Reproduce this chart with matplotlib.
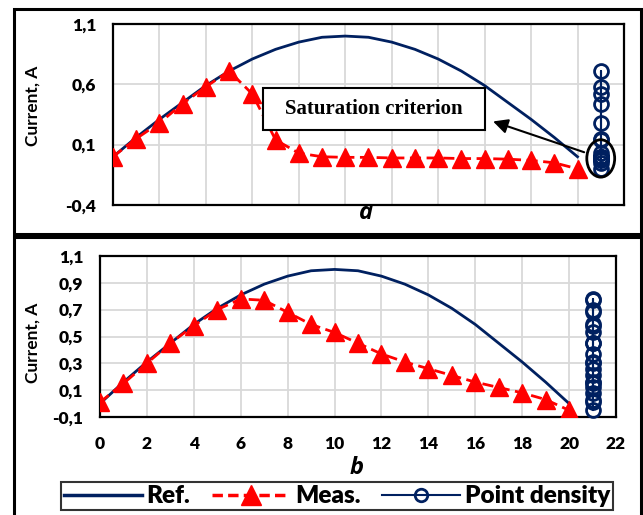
import matplotlib.pyplot as plt
from matplotlib.patches import Rectangle, Ellipse
from matplotlib.lines import Line2D
from matplotlib.ticker import FuncFormatter

# data
x_vals = list(range(21))
ref_vals = [0.0, 0.16, 0.31, 0.45, 0.59, 0.71, 0.81, 0.89, 0.95, 0.99, 1.0,
            0.99, 0.95, 0.89, 0.81, 0.71, 0.59, 0.45, 0.31, 0.16, 0.0]
meas_a = [0.0, 0.15, 0.28, 0.44, 0.58, 0.71, 0.52, 0.14, 0.03, 0.0, -0.005,
          -0.005, -0.01, -0.01, -0.01, -0.015, -0.015, -0.02, -0.03, -0.05, -0.1]
meas_b = [0.01, 0.15, 0.30, 0.45, 0.58, 0.70, 0.78, 0.77, 0.68, 0.59, 0.53,
          0.45, 0.37, 0.31, 0.26, 0.21, 0.16, 0.12, 0.08, 0.03, -0.05]
density_x = 21
yticks_a = [-0.4, 0.1, 0.6, 1.1]
yticks_b = [-0.1, 0.1, 0.3, 0.5, 0.7, 0.9, 1.1]
xticks = list(range(0, 23, 2))

NAVY = "#002060"
RED = "#ff0000"
GRID = "#d9d9d9"
FONT = "Lato"

comma = FuncFormatter(lambda v, p: f"{v:.1f}".replace(".", ","))

fig = plt.figure(figsize=(6.43, 5.15), dpi=100)

# panel frames
fig.patches.append(Rectangle((0.022, 0.5456), 0.975, 0.437, transform=fig.transFigure,
                             fill=False, lw=2.2, ec="black"))
fig.patches.append(Rectangle((0.022, -0.02), 0.975, 0.5598, transform=fig.transFigure,
                             fill=False, lw=2.2, ec="black"))

ax_a = fig.add_axes([0.1757, 0.6019, 0.7947, 0.3515])
ax_b = fig.add_axes([0.1555, 0.1903, 0.8025, 0.3126])


def style(ax, yticks, ylim, show_x, label_x, label_y):
    ax.set_xlim(0, 22)
    ax.set_ylim(*ylim)
    ax.set_xticks(xticks)
    ax.set_yticks(yticks)
    ax.yaxis.set_major_formatter(comma)
    ax.grid(True, color=GRID, lw=1.3)
    ax.set_axisbelow(True)
    ax.tick_params(length=0, pad=12)
    for s in ax.spines.values():
        s.set_linewidth(1.6)
    for lab in ax.get_yticklabels():
        lab.set_fontfamily(FONT)
        lab.set_fontweight("heavy")
        lab.set_fontsize(12.5)
    if show_x:
        for lab in ax.get_xticklabels():
            lab.set_fontfamily(FONT)
            lab.set_fontweight("heavy")
            lab.set_fontsize(12.5)
        ax.tick_params(axis="x", pad=14)
    else:
        ax.set_xticklabels([])
    ax.set_ylabel("Current, A", fontfamily=FONT, fontsize=12.5, fontweight="bold")
    ax.yaxis.set_label_coords(label_x, label_y)


def draw(ax, meas):
    ax.plot(x_vals, ref_vals, color=NAVY, lw=2, zorder=3)
    ax.plot(x_vals, meas, color=RED, lw=2, ls=(0, (4, 2)), marker="^", ms=12.5,
            mec=RED, mfc=RED, zorder=4)
    ax.plot([density_x] * len(meas), meas, color=NAVY, lw=1.5, marker="o", ms=10,
            mfc="none", mec=NAVY, mew=2, zorder=4, clip_on=False)


draw(ax_a, meas_a)
draw(ax_b, meas_b)
style(ax_a, yticks_a, (-0.4, 1.1), False, -0.141, 0.55)
style(ax_b, yticks_b, (-0.1, 1.1), True, -0.116, 0.46)

# saturation annotation
ax_a.add_patch(Rectangle((6.46, 0.218), 9.55, 0.348, fc="white", ec="black", lw=1.5, zorder=6))
ax_a.text(11.23, 0.392, "Saturation criterion", ha="center", va="center",
          fontfamily="Liberation Serif", fontweight="bold", fontsize=15, zorder=7)
ax_a.annotate("", xy=(16.25, 0.30), xytext=(20.4, 0.03),
              arrowprops=dict(arrowstyle="-|>", color="black", lw=1.5, mutation_scale=22), zorder=7)
ax_a.add_patch(Ellipse((21.0, -0.014), 1.2, 0.31, fill=False, ec="black", lw=2, zorder=6,
                       clip_on=False))

fig.text(0.569, 1 - 213 / 515, "a", ha="center", va="center", fontfamily="Open Sans",
         style="italic", fontweight="bold", fontsize=17)
fig.text(0.555, 1 - 468 / 515, "b", ha="center", va="center", fontfamily="Open Sans",
         style="italic", fontweight="bold", fontsize=17)

handles = [
    Line2D([], [], color=NAVY, lw=2.5),
    Line2D([], [], color=RED, lw=2.5, ls=(0, (3, 1.5)), marker="^", ms=14),
    Line2D([], [], color=NAVY, lw=1.5, marker="o", ms=9, mfc="none", mew=2),
]
leg = fig.legend(handles, ["Ref.", "Meas.", "Point density"], loc="lower center",
                 bbox_to_anchor=(0.524, -0.014), ncol=3, frameon=True, fancybox=False,
                 edgecolor="black", handlelength=3.2, handletextpad=0.2, columnspacing=0.9,
                 borderpad=0.12, prop={"family": FONT, "weight": "heavy", "size": 17.5})
leg.get_frame().set_linewidth(1.5)

fig.savefig("out.png", dpi=100)
